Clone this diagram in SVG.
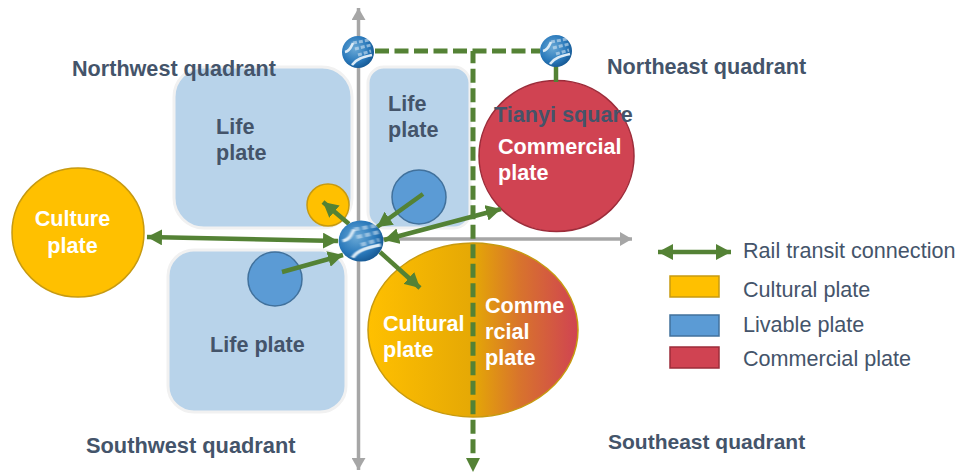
<svg xmlns="http://www.w3.org/2000/svg" width="968" height="472" viewBox="0 0 968 472">
<style>
text{font-family:"Liberation Sans",Arial,sans-serif;font-size:21.6px}
.q,.d{font-weight:700;fill:#44546a}
.w{font-weight:700;fill:#fff}
.l{fill:#44546a}
.panel{fill:#b8d3ea;stroke:#f1f1f1;stroke-width:3}
.axis{stroke:#a6a6a6;stroke-width:3.500;fill:none}
.rail{stroke:#548235;stroke-width:4.500;fill:none}
.dash{stroke:#548235;stroke-width:5;fill:none;stroke-dasharray:14 5.500}
.y{fill:#ffc000;stroke:#c79a10;stroke-width:1.500}
.b{fill:#5b9bd5;stroke:#41719c;stroke-width:1.500}
.r{fill:#d04352;stroke:#9c2c3a;stroke-width:1.500}
.st{stroke:#dcebf6;fill:none}
</style>
<defs>
<linearGradient id="mix" x1="0" x2="1" y1="0" y2="0">
<stop offset="0" stop-color="#ffc000"/><stop offset=".5" stop-color="#e5a805"/><stop offset=".72" stop-color="#d8742c"/><stop offset="1" stop-color="#d04352"/>
</linearGradient>
<radialGradient id="globe" cx=".4" cy=".4" r=".7">
<stop offset="0" stop-color="#6aa9d6"/><stop offset=".6" stop-color="#2a79bb"/><stop offset="1" stop-color="#104f88"/>
</radialGradient>
<filter id="soft" x="-20%" y="-20%" width="140%" height="140%"><feGaussianBlur stdDeviation=".6"/></filter>
<marker id="ah" markerUnits="userSpaceOnUse" markerWidth="18" markerHeight="16" refX="15" refY="8" orient="auto-start-reverse"><path d="M0 0L15 8L0 16Z" fill="#548235"/></marker>
<marker id="ax" markerUnits="userSpaceOnUse" markerWidth="14" markerHeight="14" refX="12" refY="7" orient="auto"><path d="M0 0L12 7L0 14Z" fill="#a6a6a6"/></marker>
<g id="icon">
<circle r="16" fill="url(#globe)"/>
<g filter="url(#soft)">
<path class="st" opacity=".55" stroke-width="3" stroke-dasharray="4 2" d="M-5 -9L11 -12M-3 -3L13 -7M0 3L13 -1"/>
<path class="st" stroke-width="2.500" d="M-13 0C-8 -1 -7 -5 -5 -9M-6 13C-2 7 5 5 14 3"/>
</g>
</g>
</defs>

<g id="life-nw"><rect class="panel" x="174" y="67" width="178" height="161" rx="30"/><text class="d" x="216" y="134">Life</text><text class="d" x="216" y="160">plate</text></g>
<g id="life-ne"><rect class="panel" x="368" y="67" width="102" height="161" rx="16"/><text class="d" x="388" y="111">Life</text><text class="d" x="388" y="137">plate</text></g>
<g id="life-sw"><rect class="panel" x="168" y="250" width="178" height="162" rx="26"/><text class="d" x="210" y="352">Life plate</text></g>

<g id="axes">
<path class="axis" marker-end="url(#ax)" d="M358.500 239V8"/>
<path class="axis" marker-end="url(#ax)" d="M358.500 239V470"/>
<path class="axis" marker-end="url(#ax)" d="M345 239H632"/>
</g>

<g id="culture-plate"><ellipse class="y" cx="78" cy="232.500" rx="66" ry="64.500"/><text class="w" x="72.500" y="226" text-anchor="middle">Culture</text><text class="w" x="72.500" y="253" text-anchor="middle">plate</text></g>
<g id="commercial-plate"><ellipse class="r" cx="556.500" cy="156" rx="77.500" ry="75.500"/><text class="w" x="498" y="154">Commercial</text><text class="w" x="498" y="180">plate</text></g>
<g id="mixed-plate"><ellipse cx="473" cy="330" rx="105" ry="87" fill="url(#mix)" stroke="#c79a10" stroke-width="1.500"/><text class="w" x="383" y="331">Cultural</text><text class="w" x="383" y="357">plate</text><text class="w" x="485" y="313">Comme</text><text class="w" x="485" y="339">rcial</text><text class="w" x="485" y="365">plate</text></g>
<g id="small-culture"><circle class="y" cx="328" cy="205" r="21"/></g>
<g id="livable-ne"><circle class="b" cx="419" cy="197" r="27"/></g>
<g id="livable-sw"><circle class="b" cx="275" cy="279" r="27"/></g>

<g id="connectors">
<path class="dash" d="M375 51H540"/>
<path class="dash" stroke-dashoffset="1.800" d="M473 51V458"/>
<path d="M466 458H480L473 472Z" fill="#548235"/>
<path class="rail" d="M556 66V82"/>
<path class="rail" marker-start="url(#ah)" marker-end="url(#ah)" d="M147 237L338 241"/>
<path class="rail" marker-start="url(#ah)" marker-end="url(#ah)" d="M384 240L501 209"/>
<path class="rail" marker-end="url(#ah)" d="M282 272L343 255"/>
<path class="rail" marker-end="url(#ah)" d="M423 194L377 227"/>
<path class="rail" marker-end="url(#ah)" d="M349 224L323 202"/>
<path class="rail" marker-end="url(#ah)" d="M380 252L420 288"/>
</g>

<g id="station-center"><use href="#icon" transform="translate(361 241) scale(1.4 1.28)"/></g>
<g id="station-north"><use href="#icon" transform="translate(358 52)"/></g>
<g id="station-northeast"><use href="#icon" transform="translate(556 51)"/></g>

<g id="labels">
<text class="q" x="72" y="76">Northwest quadrant</text>
<text class="q" x="607" y="74">Northeast quadrant</text>
<text class="q" x="86" y="453" style="font-size:21.800px">Southwest quadrant</text>
<text class="q" x="608" y="449" style="font-size:21px">Southeast quadrant</text>
<text class="d" x="494" y="122">Tianyi square</text>
</g>

<g id="legend">
<path class="rail" marker-start="url(#ah)" marker-end="url(#ah)" d="M658 252H731"/>
<rect class="y" x="670" y="276" width="49" height="21"/>
<rect class="b" x="670" y="315" width="49" height="21"/>
<rect class="r" x="670" y="347" width="49" height="21"/>
<text class="l" x="743" y="258">Rail transit connection</text>
<text class="l" x="743" y="297">Cultural plate</text>
<text class="l" x="743" y="332">Livable plate</text>
<text class="l" x="743" y="366">Commercial plate</text>
</g>
</svg>
